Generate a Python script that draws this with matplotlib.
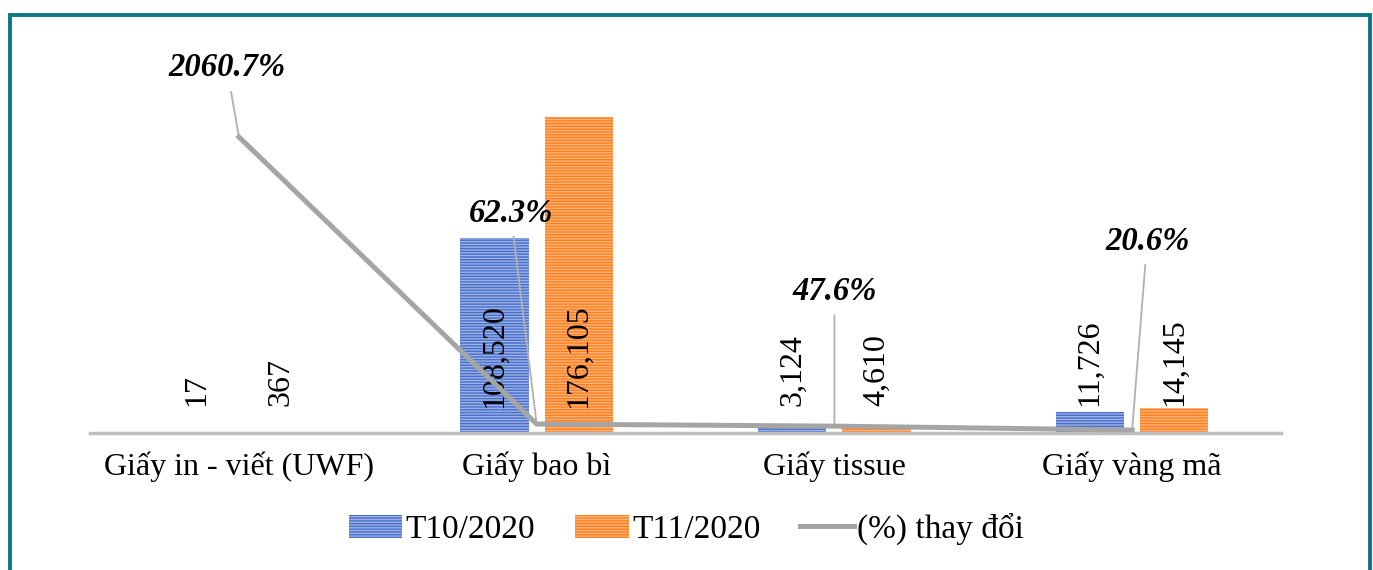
import matplotlib.pyplot as plt
import numpy as np
from matplotlib.patches import Rectangle, Patch
from matplotlib.lines import Line2D

plt.rcParams['font.family'] = ['Liberation Serif', 'DejaVu Serif']
plt.rcParams['hatch.linewidth'] = 1.0

# du lieu
categories = ['Giấy in - viết (UWF)', 'Giấy bao bì', 'Giấy tissue', 'Giấy vàng mã']
t10 = [17, 108520, 3124, 11726]
t11 = [367, 176105, 4610, 14145]
change = [2060.7, 62.3, 47.6, 20.6]
labels = ['T10/2020', 'T11/2020', '(%) thay đổi']

blue_face, blue_hatch = '#9ab0e6', '#4a70c8'
orange_face, orange_hatch = '#ffb27a', '#ff7f1a'
line_color = '#a5a5a5'

fig = plt.figure(figsize=(13.73, 5.70), dpi=100)
ax = fig.add_axes([0.0656, 0.2404, 0.8674, 0.630])
ax2 = ax.twinx()

x = np.arange(len(categories))
width = 0.229
off = 0.1415

ax.bar(x - off, t10, width, color=blue_face, edgecolor=blue_hatch, hatch='------', linewidth=0)
ax.bar(x + off, t11, width, color=orange_face, edgecolor=orange_hatch, hatch='------', linewidth=0)

# nhan gia tri (xoay doc)
for xs, vals in ((x - off, t10), (x + off, t11)):
    for xi, v in zip(xs, vals):
        if v > 50000:
            ax.text(xi, 43000, f'{v:,}', rotation=90, ha='center', va='center', fontsize=23)
        else:
            ax.text(xi, 15000, f'{v:,}', rotation=90, ha='center', va='bottom', fontsize=23)

ax.set_ylim(0, 200000)
ax.set_xlim(-0.5, len(categories) - 0.5)

# duong % thay doi
ax2.plot(x, change, color=line_color, lw=3.6, solid_joinstyle='miter')
ax2.set_ylim(0, 2500)

offsets = [(-12, 69), (-26, 211), (0, 135), (15, 189)]
for xi, c, o in zip(x, change, offsets):
    ax2.annotate(f'{c}%', (xi, c), xytext=o, textcoords='offset pixels',
                 ha='center', va='center', fontsize=23.5, fontweight='bold', fontstyle='italic',
                 annotation_clip=False,
                 arrowprops=dict(arrowstyle='-', color='#b0b0b0', lw=1.3, shrinkA=4, shrinkB=2))

for a in (ax, ax2):
    for s in a.spines.values():
        s.set_visible(False)
    a.set_yticks([])
    a.tick_params(length=0)
ax.spines['bottom'].set_visible(True)
ax.spines['bottom'].set_color('#bfbfbf')
ax.spines['bottom'].set_linewidth(2.5)
ax.set_xticks(x, categories, fontsize=23)
ax.tick_params(axis='x', pad=13)

handles = [Patch(facecolor=blue_face, edgecolor=blue_hatch, hatch='------', linewidth=0),
           Patch(facecolor=orange_face, edgecolor=orange_hatch, hatch='------', linewidth=0),
           Line2D([], [], color=line_color, lw=3.6)]
fig.legend(handles, labels, loc='center', bbox_to_anchor=(0.5, 0.072), ncol=3, frameon=False,
           fontsize=24, handlelength=1.6, handletextpad=0.1, columnspacing=1.2)

# khung vien
fig.add_artist(Rectangle((0.0073, -0.05), 0.9905, 1.024, transform=fig.transFigure,
                         fill=False, edgecolor='#0e7585', linewidth=2.8))

plt.savefig('out.png', dpi=100)
